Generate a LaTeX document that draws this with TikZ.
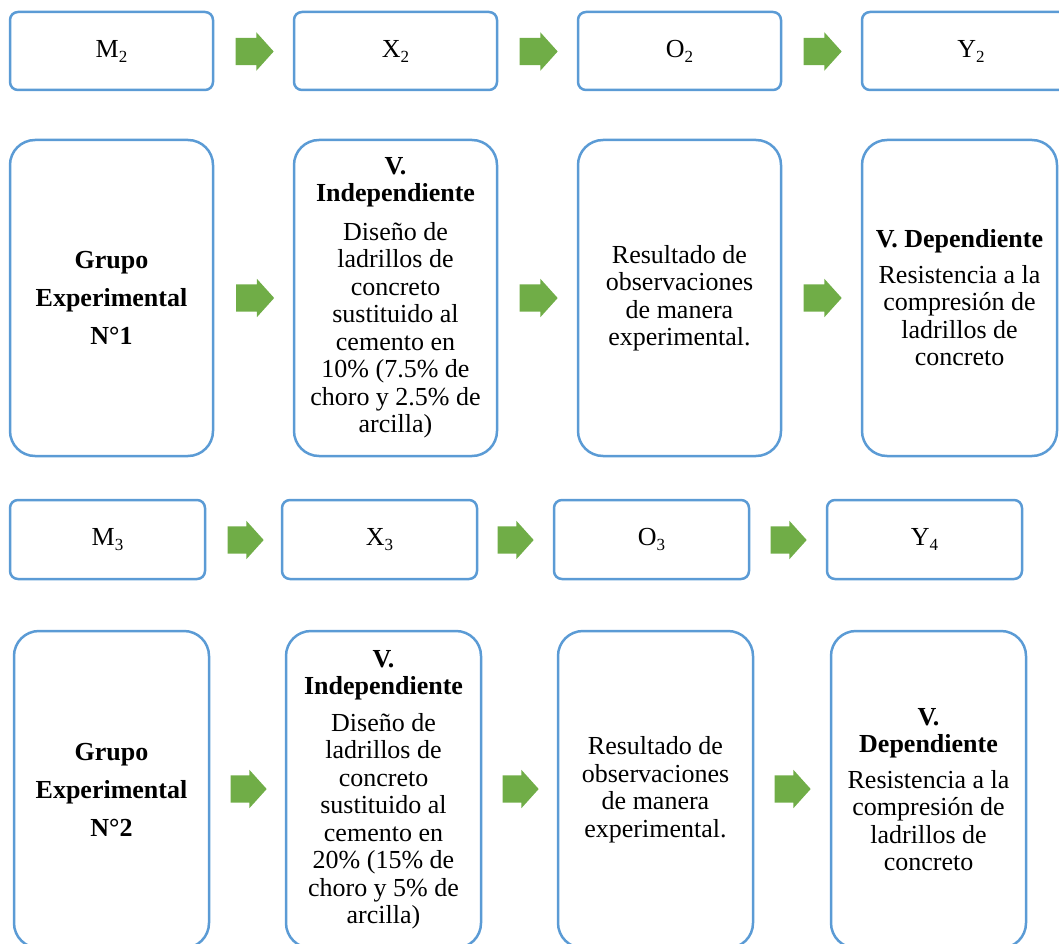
\documentclass[tikz,border=0pt]{standalone}
\usepackage{fontspec}
\setmainfont{Liberation Serif}
\usetikzlibrary{shapes.arrows}
\definecolor{boxblue}{RGB}{91,155,213}
\definecolor{arrowgreen}{RGB}{112,173,71}
\newcommand{\subidx}[1]{\raisebox{-5pt}{\fontsize{17}{17}\selectfont #1}}

\begin{document}
\begin{tikzpicture}[x=1pt, y=-1pt,
    every node/.style={font=\fontsize{26}{27.5}\selectfont, align=center, inner sep=0pt},
    box/.style={draw=boxblue, line width=2.5pt, rounded corners=8pt, minimum width=195pt, minimum height=78pt},
    tallbox/.style={box, rounded corners=25pt, minimum height=316pt},
    grupo/.style={font=\bfseries\fontsize{26}{38}\selectfont},
    flecha/.style={single arrow, fill=arrowgreen, text height=27pt, text depth=0pt, minimum height=38pt, minimum width=38pt, single arrow head extend=5.5pt, single arrow tip angle=96}]
    \useasboundingbox (0,0) rectangle (1059,944);
    \clip (0,0) rectangle (1059,944);

    % Row 1
    \node[box, minimum width=203pt] (m2) at (111.5, 51) {M\subidx{2}};
    \node[box, minimum width=203pt] (x2) at (395.5, 51) {X\subidx{2}};
    \node[box, minimum width=203pt] (o2) at (679.5, 51) {O\subidx{2}};
    \node[box, minimum width=218pt] (y2) at (971, 51) {Y\subidx{2}};
    \node[flecha] (a1) at (248.5, 51.5) {};
    \node[flecha] (a2) at (532.5, 51.5) {};
    \node[flecha] (a3) at (816.5, 51.5) {};

    % Grupo Experimental N°1
    \node[tallbox, grupo, minimum width=203pt] (g1) at (111.5, 298) {Grupo\\Experimental\\N°1};
    \node[tallbox, minimum width=203pt] (vi1) at (395.5, 298) {\textbf{V.}\\\textbf{Independiente}\\[11pt]Diseño de\\ladrillos de\\concreto\\sustituido al\\cemento en\\10\% (7.5\% de\\choro y 2.5\% de\\arcilla)};
    \node[tallbox, minimum width=203pt] (res1) at (679.5, 298) {Resultado de\\observaciones\\de manera\\experimental.};
    \node[tallbox] (vd1) at (959.5, 298) {\textbf{V. Dependiente}\\[8pt]Resistencia a la\\compresión de\\ladrillos de\\concreto};
    \node[flecha] (a4) at (249, 298) {};
    \node[flecha] (a5) at (532.5, 298) {};
    \node[flecha] (a6) at (816.5, 298) {};

    % Row 3
    \node[box, minimum height=79pt] (m3) at (107.5, 539.5) {M\subidx{3}};
    \node[box, minimum height=79pt] (x3) at (379.5, 539.5) {X\subidx{3}};
    \node[box, minimum height=79pt] (o3) at (651.5, 539.5) {O\subidx{3}};
    \node[box, minimum height=79pt] (y4) at (924.5, 539.5) {Y\subidx{4}};
    \node[flecha, minimum height=36pt] (a7) at (239.5, 540) {};
    \node[flecha, minimum height=36pt] (a8) at (509.5, 540) {};
    \node[flecha, minimum height=36pt] (a9) at (782.5, 540) {};

    % Grupo Experimental N°2
    \node[tallbox, grupo, minimum height=317pt] (g2) at (111.5, 789.5) {Grupo\\Experimental\\N°2};
    \node[tallbox, minimum height=317pt] (vi2) at (383.5, 789.5) {\textbf{V.}\\\textbf{Independiente}\\[9pt]Diseño de\\ladrillos de\\concreto\\sustituido al\\cemento en\\20\% (15\% de\\choro y 5\% de\\arcilla)};
    \node[tallbox, minimum height=317pt] (res2) at (655.5, 789.5) {Resultado de\\observaciones\\de manera\\experimental.};
    \node[tallbox, minimum height=317pt] (vd2) at (928.5, 789.5) {\textbf{V.}\\\textbf{Dependiente}\\[8pt]Resistencia a la\\compresión de\\ladrillos de\\concreto};
    \node[flecha, minimum height=36pt] (a10) at (242.5, 789) {};
    \node[flecha, minimum height=36pt] (a11) at (514.5, 789) {};
    \node[flecha, minimum height=36pt] (a12) at (786.5, 789) {};

\end{tikzpicture}
\end{document}
